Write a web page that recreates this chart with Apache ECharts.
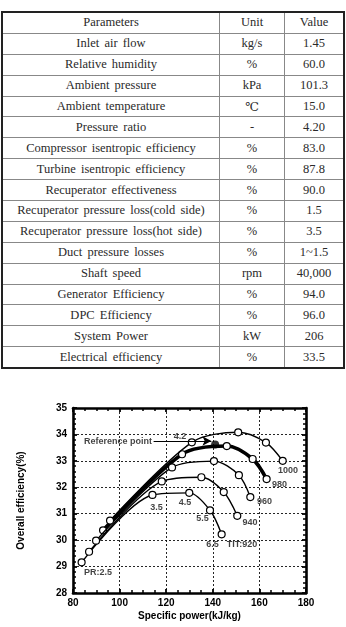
<!DOCTYPE html>
<html>
<head>
<meta charset="utf-8">
<script src="https://cdn.jsdelivr.net/npm/echarts@6/dist/echarts.min.js"></script>
<style>
  html, body { margin: 0; padding: 0; background: #fff; }
  #wrap { position: relative; width: 346px; height: 627px; overflow: hidden; }
  #chart { position: absolute; left: 0; top: 0; width: 346px; height: 627px; }
  #tbl {
    position: absolute; left: 1px; top: 11px; width: 344px;
    border-collapse: collapse; border: 2px solid #222;
    font-family: "Liberation Serif", "DejaVu Serif", serif; font-size: 12.5px; color: #2a2a2a;
    word-spacing: 2px; z-index: 2; background: #fff;
  }
  #tbl td, #tbl th { border: 1px solid #888; text-align: center; height: 19.9px; padding: 0; font-weight: normal; }
</style>
</head>
<body>
<div id="wrap">
  <div id="chart"></div>
  <table id="tbl"></table>
</div>
<script>
// ---- table data ----
const tableHeader = ['Parameters', 'Unit', 'Value'];
const paramNames = ['Inlet air flow', 'Relative humidity', 'Ambient pressure', 'Ambient temperature', 'Pressure ratio',
  'Compressor isentropic efficiency', 'Turbine isentropic efficiency', 'Recuperator effectiveness',
  'Recuperator pressure loss(cold side)', 'Recuperator pressure loss(hot side)', 'Duct pressure losses',
  'Shaft speed', 'Generator Efficiency', 'DPC Efficiency', 'System Power', 'Electrical efficiency'];
const paramUnits = ['kg/s', '%', 'kPa', '℃', '-', '%', '%', '%', '%', '%', '%', 'rpm', '%', '%', 'kW', '%'];
const paramValues = ['1.45', '60.0', '101.3', '15.0', '4.20', '83.0', '87.8', '90.0', '1.5', '3.5', '1~1.5', '40,000', '94.0', '96.0', '206', '33.5'];

// ---- chart data ----
const xTicks = [80, 100, 120, 140, 160, 180];
const yTicks = [28, 29, 30, 31, 32, 33, 34, 35];
const pressureRatios = [2.5, 3.5, 4.5, 5.5, 6.5];
const titNames = ['920', '940', '960', '980', '1000'];
const power920 = [83.7, 114.1, 129.9, 138.8, 143.8];
const eff920   = [29.16, 31.71, 31.79, 31.13, 30.22];
const power940 = [86.9, 118.1, 135.1, 144.7, 150.5];
const eff940   = [29.56, 32.22, 32.38, 31.82, 30.92];
const power960 = [89.9, 122.5, 140.5, 151.2, 156.1];
const eff960   = [29.98, 32.75, 32.99, 32.46, 31.63];
const power980 = [92.9, 126.8, 146.0, 157.1, 163.1];
const eff980   = [30.37, 33.25, 33.56, 33.07, 32.31];
const power1000 = [95.9, 131.0, 150.9, 162.8, 170.0];
const eff1000   = [30.74, 33.70, 34.08, 33.69, 33.00];
const refPoint = [141.0, 33.62];
const refArrowFrom = [114.6, 33.75];
const labelTexts = ['PR:2.5', '3.5', '4.5', '5.5', '6.5', 'TIT:920', '940', '960', '980', '1000', '4.2', 'Reference point'];
const labelX = [90.7, 115.8, 128.1, 135.6, 139.9, 152.5, 156.0, 162.2, 168.6, 172.3, 125.9, 99.3];
const labelY = [28.76, 31.25, 31.44, 30.80, 29.82, 29.85, 30.65, 31.48, 32.12, 32.65, 33.92, 33.75];

// ---- build table ----
const tbl = document.getElementById('tbl');
let html = '<tr>' + tableHeader.map(h => '<th>' + h + '</th>').join('') + '</tr>';
paramNames.forEach((p, i) => {
  html += '<tr><td style="width:216px">' + p + '</td><td style="width:64px">' + paramUnits[i] + '</td><td>' + paramValues[i] + '</td></tr>';
});
tbl.innerHTML = html;

// ---- chart ----
const chart = echarts.init(document.getElementById('chart'), null, { renderer: 'canvas' });
const curves = [
  [power920, eff920], [power940, eff940], [power960, eff960], [power980, eff980], [power1000, eff1000]
];
const lineSeries = curves.map((c, k) => ({
  type: 'line',
  name: 'TIT ' + titNames[k],
  data: c[0].map((x, i) => [x, c[1][i]]),
  smooth: 0.3,
  symbol: 'circle',
  symbolSize: 7,
  showAllSymbol: true,
  itemStyle: { color: '#fff', borderColor: '#000', borderWidth: 1.2 },
  lineStyle: { color: '#000', width: titNames[k] === '980' ? 3.6 : 1.4 },
  z: titNames[k] === '980' ? 3 : 4,
  xAxisIndex: 0, yAxisIndex: 0,
  animation: false
}));

const axisFont = { fontFamily: 'Liberation Sans, Arial, sans-serif', fontWeight: 'bold', fontSize: 10, color: '#000' };
const frameLine = { show: true, onZero: false, lineStyle: { color: '#000', width: 2.6 } };
const majorTick = { show: true, inside: true, length: 4, lineStyle: { color: '#000', width: 1.8 } };
const gridLine = { show: true, lineStyle: { color: '#000', type: [2, 2], width: 1, opacity: 0.85 } };

const option = {
  animation: false,
  backgroundColor: 'transparent',
  grid: { left: 73, right: 40, top: 408, bottom: 34, containLabel: false },
  xAxis: [{
    type: 'value', min: xTicks[0], max: xTicks[xTicks.length - 1], interval: 20,
    name: 'Specific power(kJ/kg)', nameLocation: 'middle', nameGap: 18,
    nameTextStyle: axisFont,
    axisLine: frameLine, axisTick: majorTick,
    minorTick: { show: true, splitNumber: 4, length: 3, lineStyle: { color: '#000', width: 1.5 } },
    axisLabel: Object.assign({ margin: 5 }, axisFont),
    splitLine: gridLine
  }, {
    type: 'value', position: 'top', min: xTicks[0], max: xTicks[xTicks.length - 1], interval: 20,
    axisLine: frameLine, axisTick: majorTick,
    minorTick: { show: true, splitNumber: 4, length: 3, lineStyle: { color: '#000', width: 1.5 } },
    axisLabel: { show: false }, splitLine: { show: false }
  }],
  yAxis: [{
    type: 'value', min: yTicks[0], max: yTicks[yTicks.length - 1], interval: 1,
    name: 'Overall efficiency(%)', nameLocation: 'middle', nameGap: 47, nameRotate: 90,
    nameTextStyle: axisFont,
    axisLine: frameLine, axisTick: majorTick,
    minorTick: { show: true, splitNumber: 5, length: 3, lineStyle: { color: '#000', width: 1.5 } },
    axisLabel: Object.assign({ margin: 6 }, axisFont),
    splitLine: gridLine
  }, {
    type: 'value', position: 'right', min: yTicks[0], max: yTicks[yTicks.length - 1], interval: 1,
    axisLine: frameLine, axisTick: majorTick,
    minorTick: { show: true, splitNumber: 5, length: 3, lineStyle: { color: '#000', width: 1.5 } },
    axisLabel: { show: false }, splitLine: { show: false }
  }],
  series: lineSeries.concat([
    {
      type: 'scatter', name: 'Reference point',
      data: [refPoint], symbol: 'circle', symbolSize: 8,
      itemStyle: { color: '#000' }, z: 6,
      markLine: {
        silent: true, symbol: ['none', 'arrow'], symbolSize: [7, 9],
        label: { show: false },
        lineStyle: { color: '#000', width: 1, type: 'solid' },
        data: [[{ coord: refArrowFrom }, { coord: [refPoint[0] - 1.6, refArrowFrom[1]] }]]
      }
    },
    {
      type: 'scatter', name: 'labels',
      data: labelTexts.map((t, i) => ({ name: t, value: [labelX[i], labelY[i]] })),
      symbolSize: 0, z: 7,
      label: {
        show: true, position: 'inside', formatter: p => p.name,
        fontFamily: 'Liberation Sans, Arial, sans-serif', fontWeight: 'bold', fontSize: 9, color: '#111'
      }
    }
  ])
};
chart.setOption(option);
</script>
</body>
</html>
